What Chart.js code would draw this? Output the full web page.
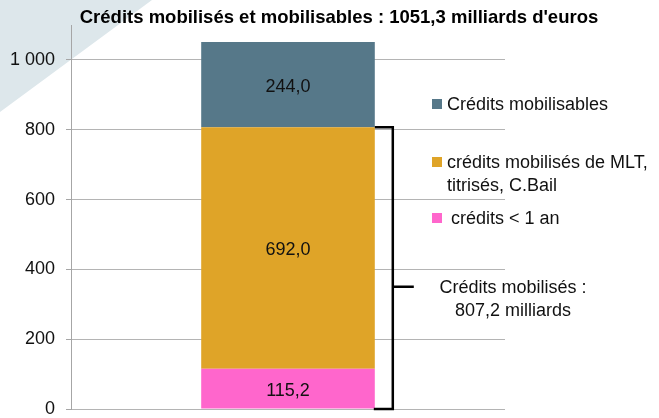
<!DOCTYPE html>
<html>
<head>
<meta charset="utf-8">
<script src="https://cdn.jsdelivr.net/npm/chart.js@4"></script>
<style>
  html, body { margin: 0; padding: 0; background: #fff; }
  #wrap { width: 659px; height: 418px; position: relative; }
</style>
</head>
<body>
<div id="wrap"><canvas id="chart"></canvas></div>
<script>
// données
const categories = ['Crédits']
const seriesLabels = ['crédits < 1 an', 'crédits mobilisés de MLT, titrisés, C.Bail', 'Crédits mobilisables']
const creditsCourt = [115.2]
const creditsMLT = [692.0]
const creditsMobilisables = [244.0]
const seriesColors = ['#ff66cc', '#dfa428', '#567889']
const yTicks = [0, 200, 400, 600, 800, 1000]
const totalMobilises = creditsCourt[0] + creditsMLT[0]
const braceTickValue = 350

const fmt = v => v.toFixed(1).replace('.', ',')
const fmtTick = v => String(v).replace(/\B(?=(\d{3})+(?!\d))/g, ' ')

const FONT = '"Liberation Sans", Arial, sans-serif'

const decor = {
    id: 'decor',
    beforeDraw(chart) {
        const c = chart.ctx
        c.save()
        c.fillStyle = '#dde7eb'
        c.beginPath()
        c.moveTo(0, 0)
        c.lineTo(152, 0)
        c.lineTo(0, 112)
        c.closePath()
        c.fill()
        c.restore()
    },
    afterDraw(chart) {
        const c = chart.ctx
        const y = chart.scales.y
        c.save()
        // titre
        c.fillStyle = '#000'
        c.font = 'bold 18.5px ' + FONT
        c.textAlign = 'center'
        c.textBaseline = 'middle'
        c.fillText("Crédits mobilisés et mobilisables : 1051,3 milliards d'euros", 339, 18)

        // étiquettes des segments
        c.font = '18px ' + FONT
        c.fillStyle = '#111'
        chart.data.datasets.forEach((ds, i) => {
            const bar = chart.getDatasetMeta(i).data[0]
            c.fillText(fmt(ds.data[0]), bar.x, (bar.y + bar.base) / 2 + 2)
        })

        // légende (ordre inverse)
        const items = [
            {i: 2, lines: [seriesLabels[2]], y: 104, tx: 447},
            {i: 1, lines: ['crédits mobilisés de MLT,', 'titrisés, C.Bail'], y: 162, tx: 447},
            {i: 0, lines: [seriesLabels[0]], y: 218, tx: 451}
        ]
        c.textAlign = 'left'
        items.forEach(it => {
            c.fillStyle = seriesColors[it.i]
            c.fillRect(432, it.y - 5, 10, 10)
            c.fillStyle = '#111'
            it.lines.forEach((l, k) => c.fillText(l, it.tx, it.y + 1 + k * 23))
        })

        // accolade
        const bar = chart.getDatasetMeta(1).data[0]
        const right = bar.x + bar.width / 2
        const yTop = y.getPixelForValue(totalMobilises)
        const yBot = y.getPixelForValue(0)
        const yMid = y.getPixelForValue(braceTickValue)
        const bx = right + 18
        c.strokeStyle = '#000'
        c.lineWidth = 2.5
        c.beginPath()
        c.moveTo(right, yTop)
        c.lineTo(bx, yTop)
        c.lineTo(bx, yBot)
        c.lineTo(right - 1, yBot)
        c.moveTo(bx, yMid)
        c.lineTo(bx + 21, yMid)
        c.stroke()

        c.fillStyle = '#111'
        c.textAlign = 'center'
        c.fillText('Crédits mobilisés :', 513, yMid + 1)
        c.fillText(fmt(totalMobilises) + ' milliards', 513, yMid + 24)
        c.restore()
    }
}

new Chart(document.getElementById('chart'), {
    type: 'bar',
    data: {
        labels: categories,
        datasets: [
            {label: seriesLabels[0], data: creditsCourt, backgroundColor: seriesColors[0]},
            {label: seriesLabels[1], data: creditsMLT, backgroundColor: seriesColors[1]},
            {label: seriesLabels[2], data: creditsMobilisables, backgroundColor: seriesColors[2]}
        ]
    },
    options: {
        responsive: true,
        maintainAspectRatio: false,
        animation: false,
        layout: {padding: {left: 0, right: 154, top: 25, bottom: 9}},
        datasets: {bar: {barPercentage: 0.4, categoryPercentage: 1, borderWidth: 0}},
        plugins: {legend: {display: false}, title: {display: false}, tooltip: {enabled: false}},
        scales: {
            x: {stacked: true, display: false},
            y: {
                stacked: true,
                min: 0, max: 1100,
                afterFit: s => { s.width = 71; s.paddingTop = 0; s.paddingBottom = 0 },
                afterBuildTicks: s => { s.ticks = yTicks.map(v => ({value: v})) },
                border: {display: true, color: '#a6a6a6', width: 1},
                grid: {color: '#b4b4b4', lineWidth: 1, tickLength: 5, tickColor: '#a6a6a6'},
                ticks: {
                    padding: 11,
                    color: '#111',
                    font: {family: FONT, size: 18},
                    callback: v => fmtTick(v)
                }
            }
        }
    },
    plugins: [decor]
})
</script>
</body>
</html>
